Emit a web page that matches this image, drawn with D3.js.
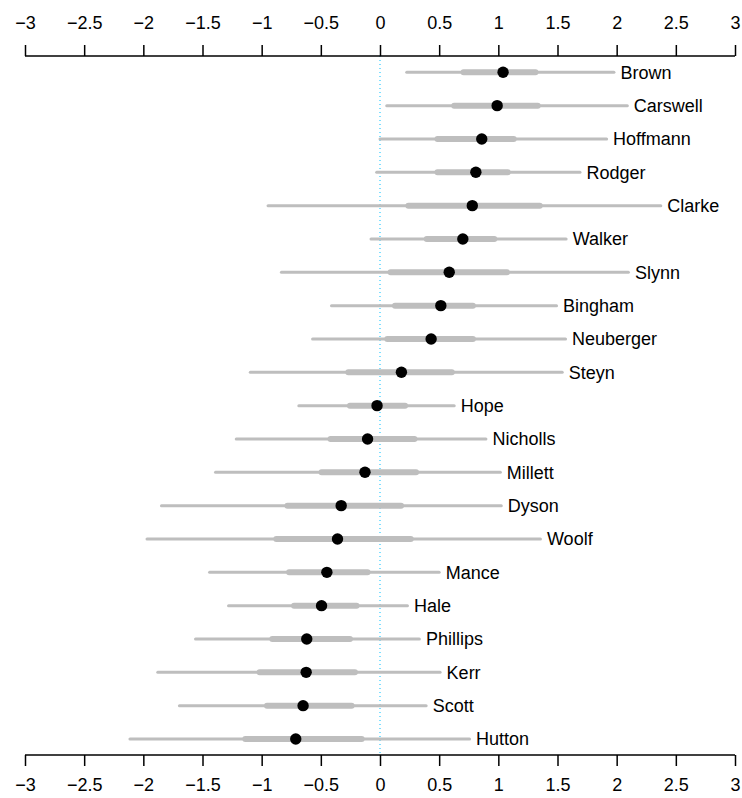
<!DOCTYPE html>
<html>
<head>
<meta charset="utf-8">
<script src="https://cdn.jsdelivr.net/npm/d3@7"></script>
<style>
  html, body { margin: 0; padding: 0; background: #fff; }
  svg { display: block; }
  text { font-family: "Liberation Sans", Arial, Helvetica, sans-serif; fill: #000; }
</style>
</head>
<body>
<svg id="chart" width="742" height="798"></svg>
<script>
const judges = ["Brown","Carswell","Hoffmann","Rodger","Clarke","Walker","Slynn","Bingham","Neuberger","Steyn","Hope","Nicholls","Millett","Dyson","Woolf","Mance","Hale","Phillips","Kerr","Scott","Hutton"];
const estimate = [1.04,0.99,0.86,0.81,0.78,0.70,0.585,0.514,0.432,0.181,-0.025,-0.105,-0.127,-0.328,-0.359,-0.449,-0.494,-0.619,-0.624,-0.650,-0.712];
const inner_lo = [0.706,0.627,0.486,0.486,0.24,0.395,0.09,0.127,0.062,-0.268,-0.254,-0.418,-0.494,-0.782,-0.876,-0.768,-0.726,-0.91,-1.017,-0.955,-1.138];
const inner_hi = [1.314,1.333,1.13,1.079,1.35,0.966,1.073,0.785,0.785,0.607,0.212,0.291,0.305,0.178,0.26,-0.105,-0.198,-0.254,-0.212,-0.24,-0.155];
const outer_lo = [0.226,0.057,0.0,-0.028,-0.946,-0.076,-0.833,-0.41,-0.57,-1.096,-0.686,-1.215,-1.39,-1.847,-1.969,-1.44,-1.28,-1.559,-1.878,-1.695,-2.113];
const outer_hi = [1.977,2.09,1.915,1.69,2.373,1.573,2.099,1.492,1.568,1.54,0.627,0.895,1.017,1.025,1.356,0.5,0.232,0.333,0.508,0.39,0.757];
const tickValues = [-3,-2.5,-2,-1.5,-1,-0.5,0,0.5,1,1.5,2,2.5,3];

const rows = judges.map((name, i) => ({
  name, est: estimate[i], ilo: inner_lo[i], ihi: inner_hi[i], olo: outer_lo[i], ohi: outer_hi[i]
}));

const svg = d3.select("#chart");
const x = d3.scaleLinear().domain([-3, 3]).range([25, 735]);
const y = d3.scalePoint().domain(judges).range([72.3, 739]);

const axisTopY = 56, axisBotY = 755;
const fmt = v => (v < 0 ? "\u2212" : "") + Math.abs(v);

// reference line at zero
svg.append("line")
  .attr("x1", x(0)).attr("x2", x(0))
  .attr("y1", axisTopY).attr("y2", axisBotY)
  .attr("stroke", "#00BFFF").attr("stroke-width", 1)
  .attr("stroke-dasharray", "1,3");

const g = svg.append("g");
const row = g.selectAll("g.row").data(rows).join("g").attr("class", "row");

row.append("line")
  .attr("x1", d => x(d.olo)).attr("x2", d => x(d.ohi))
  .attr("y1", d => y(d.name)).attr("y2", d => y(d.name))
  .attr("stroke", "#BEBEBE").attr("stroke-width", 3).attr("stroke-linecap", "round");

row.append("line")
  .attr("x1", d => x(d.ilo)).attr("x2", d => x(d.ihi))
  .attr("y1", d => y(d.name)).attr("y2", d => y(d.name))
  .attr("stroke", "#BEBEBE").attr("stroke-width", 6).attr("stroke-linecap", "round");

row.append("circle")
  .attr("cx", d => x(d.est)).attr("cy", d => y(d.name))
  .attr("r", 5.7).attr("fill", "#000");

row.append("text")
  .attr("x", d => x(d.ohi) + 6.5).attr("y", d => y(d.name))
  .attr("dy", "0.35em")
  .attr("font-size", 18)
  .text(d => d.name);

// axes
const topAxis = d3.axisTop(x).tickValues(tickValues).tickSize(11).tickPadding(16).tickFormat(fmt);
const botAxis = d3.axisBottom(x).tickValues(tickValues).tickSize(11).tickPadding(12).tickFormat(fmt);

function styleAxis(sel) {
  sel.select(".domain").remove();
  sel.selectAll(".tick line").attr("stroke", "#000").attr("stroke-width", 1.5);
  sel.selectAll(".tick text").attr("font-size", 18).attr("fill", "#000")
    .attr("font-family", "'Liberation Sans', Arial, sans-serif");
}

const ta = svg.append("g").attr("transform", `translate(0,${axisTopY})`).call(topAxis);
styleAxis(ta);
ta.append("line").attr("x1", x(-3)).attr("x2", x(3)).attr("stroke", "#000").attr("stroke-width", 1.5);

const ba = svg.append("g").attr("transform", `translate(0,${axisBotY})`).call(botAxis);
styleAxis(ba);
ba.append("line").attr("x1", x(-3)).attr("x2", x(3)).attr("stroke", "#000").attr("stroke-width", 1.5);
</script>
</body>
</html>
